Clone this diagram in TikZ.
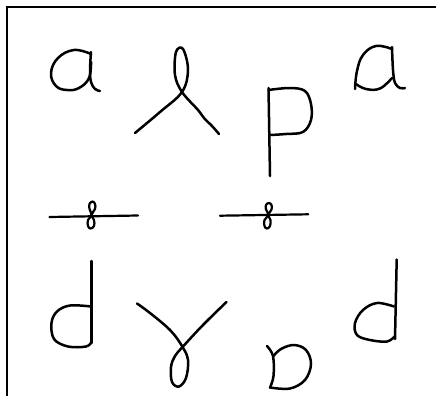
\documentclass[tikz,border=0pt]{standalone}
\begin{document}
\begin{tikzpicture}[x=1pt,y=-1pt,
  ink/.style={line width=2.5pt,line cap=round,line join=round},
  frame/.style={line width=2pt},
  smoothline/.style={ink,smooth,tension=0.6}]
\useasboundingbox (0,0) rectangle (436,396);
% frame (top and left edges)
\draw[frame] (436,7) -- (6.5,7) -- (6.5,396);
% left a
\draw[ink] plot[smooth,tension=0.7] coordinates {(91,54) (74,50) (58,58) (51,73) (56,86) (67,90) (79,88) (89,78) (91,62)};
\draw[ink] plot[smooth,tension=0.6] coordinates {(91,52) (90,70) (91,82) (95,89) (100,91)};
% loop figure (lambda)
\draw[ink] plot[smooth,tension=0.6] coordinates {(135,133) (160,112) (182,92) (188,70) (183,49) (176,52) (175,75) (182,92) (198,110) (204,118) (212,126) (219,134)};
% p
\draw[ink] (268.5,88) -- (270,176);
\draw[ink] plot[smooth,tension=0.6] coordinates {(268.5,90) (290,88) (305,91) (311,104) (311,120) (303,132) (286,134) (271,135)};
% right a
\draw[ink] plot[smooth,tension=0.7] coordinates {(392,49) (376,46) (363,55) (357,71) (355,89)};
\draw[ink] plot[smooth,tension=0.7] coordinates {(356,84) (366,89) (380,88.5) (392,78)};
\draw[ink] plot[smooth,tension=0.6] coordinates {(392,47) (393,70) (395,83) (400,88) (405,88)};
% bars with figure eights
\draw[ink,line width=2.2pt] (49.5,217) -- (138,215.5);
\draw[ink,line width=2.2pt] plot[smooth cycle,tension=0.7] coordinates {(91.5,215) (95,209) (95,204) (92.5,201.5) (89.5,204) (89.5,209) (91.5,215) (88,220) (88,226) (90.5,228.5) (94,226) (94,220)};
\draw[ink,line width=2.2pt] (220,215.7) -- (308.3,214.3);
\draw[ink,line width=2.2pt] plot[smooth cycle,tension=0.7] coordinates {(268.3,215) (271.5,209.5) (271.5,205) (268.8,203) (266,205) (266,209.5) (268.3,215) (264.5,220) (264.5,226) (267,228.5) (270,226) (270.5,220)};
% left d
\draw[ink] (91.7,261) -- (91.7,343);
\draw[ink] plot[smooth,tension=0.6] coordinates {(91,306.5) (70,305.5) (57,311.5) (51.5,323) (54,339) (68,346.5) (86,346.5) (91.5,342)};
% gamma
\draw[ink] plot[smooth,tension=0.6] coordinates {(137,303.5) (150,313) (170,330) (182,346) (188,360) (186,378) (179,386.5) (172,382) (171,367) (175,356) (183,346.5) (203,325) (226.5,302)};
% bottom o-like shape
\draw[ink] plot[smooth,tension=0.6] coordinates {(267,346) (273,356) (273.5,376) (270,387.5)};
\draw[ink] plot[smooth,tension=0.6] coordinates {(270,387.5) (290,388.5) (305,380) (311,364) (306,350) (294,345) (281,349) (273,356.5)};
% right d
\draw[ink] (396.7,259.5) -- (395,339);
\draw[ink] plot[smooth,tension=0.6] coordinates {(394,306.5) (377,303) (363,310) (355,323) (357,335) (370,340) (387,341.5) (395,336)};
\end{tikzpicture}
\end{document}
